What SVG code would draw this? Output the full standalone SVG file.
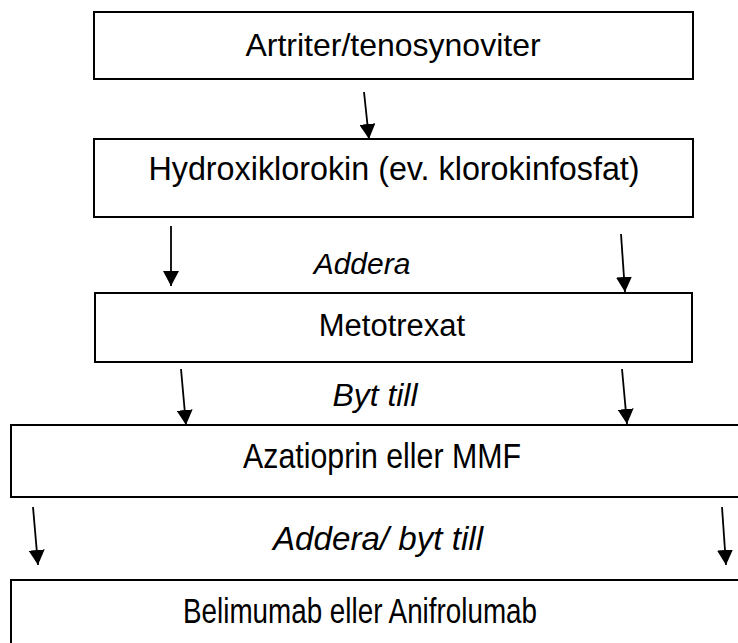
<svg xmlns="http://www.w3.org/2000/svg" width="738" height="643" viewBox="0 0 738 643">
<defs>
<marker id="ah" markerUnits="userSpaceOnUse" markerWidth="16" markerHeight="16" viewBox="0 0 16 16" refX="15" refY="8" orient="auto">
<path d="M0,0 L15,8 L0,16 Z" fill="#000"/>
</marker>
<style>
.box{fill:#fff;stroke:#000;stroke-width:2}
.t{font-family:"Liberation Sans",Arial,sans-serif;fill:#000;text-anchor:middle}
.i{font-style:italic}
.c line{stroke:#000;stroke-width:1.8;marker-end:url(#ah)}
</style>
</defs>
<rect width="738" height="643" fill="#fff"/>
<g id="n1"><rect class="box" x="94" y="12" width="599" height="67"/><text class="t" x="393" y="56" font-size="32">Artriter/tenosynoviter</text></g>
<g id="n2"><rect class="box" x="94" y="139" width="599" height="78"/><text class="t" x="394" y="180" font-size="32.3">Hydroxiklorokin (ev. klorokinfosfat)</text></g>
<g id="n3"><rect class="box" x="95" y="293" width="597" height="69"/><text class="t" x="392" y="336" font-size="31">Metotrexat</text></g>
<g id="n4"><rect class="box" x="11" y="425" width="740" height="72"/><text class="t" x="382" y="468" font-size="35" textLength="278" lengthAdjust="spacingAndGlyphs">Azatioprin eller MMF</text></g>
<g id="n5"><rect class="box" x="11" y="580" width="740" height="80"/><text class="t" x="360" y="623" font-size="35.5" textLength="354" lengthAdjust="spacingAndGlyphs">Belimumab eller Anifrolumab</text></g>
<g id="labels">
<text class="t i" x="362" y="274" font-size="30">Addera</text>
<text class="t i" x="375" y="406" font-size="32" textLength="85" lengthAdjust="spacingAndGlyphs">Byt till</text>
<text class="t i" x="378" y="550" font-size="33" textLength="210" lengthAdjust="spacingAndGlyphs">Addera/ byt till</text>
</g>
<g class="c" id="connectors">
<line x1="364" y1="92" x2="369" y2="139"/>
<line x1="171" y1="226" x2="171" y2="286"/>
<line x1="621" y1="234" x2="625" y2="292"/>
<line x1="181" y1="369" x2="186" y2="425"/>
<line x1="622" y1="369" x2="627" y2="424"/>
<line x1="33" y1="507" x2="38" y2="565"/>
<line x1="722" y1="507" x2="726" y2="565"/>
</g>
</svg>
